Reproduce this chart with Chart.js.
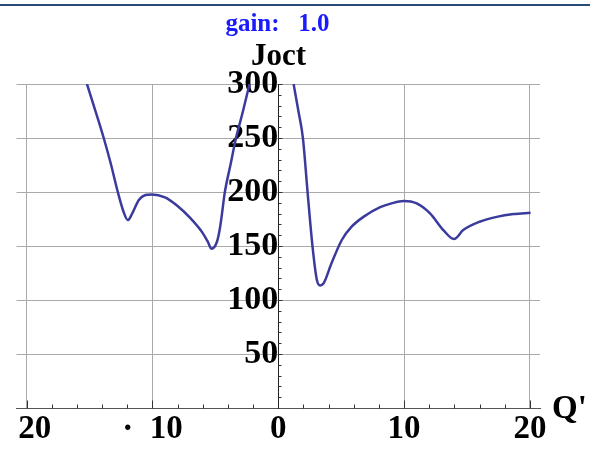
<!DOCTYPE html>
<html>
<head>
<meta charset="utf-8">
<title>Joct vs Q'</title>
<script src="https://cdn.jsdelivr.net/npm/chart.js@4.4.1/dist/chart.umd.min.js"></script>
<style>
  html, body { margin: 0; padding: 0; background: #fff; }
  #wrap { position: relative; width: 590px; height: 451px; }
  #topRule { position: absolute; top: 4px; left: 0; width: 590px; height: 1.5px; background: #284a78; }
</style>
</head>
<body>
<div id="wrap">
  <div id="topRule"></div>
  <canvas id="plot"></canvas>
</div>
<script>
// valores
const leftBranchQ = [-15.2, -14.5, -13.87, -13.3, -12.75, -12.3, -11.95, -11.61, -11.08, -10.56, -10.04, -9.0, -8.0, -7.0, -6.0, -5.6, -5.3, -4.87, -4.66, -4.47, -4.26, -3.8, -3.36, -2.8, -2.28];
const leftBranchJ = [300, 274, 250, 226, 200, 182, 174, 180, 192.6, 197.2, 197.8, 195, 187, 176, 162, 154, 147.5, 154, 164.8, 180, 198.8, 225, 249.7, 275, 300];
const rightBranchQ = [1.22, 1.6, 1.96, 2.33, 2.72, 3.07, 3.33, 3.6, 4.23, 5.05, 5.83, 6.77, 8.1, 9.0, 9.95, 11.0, 12.06, 13.12, 13.97, 14.7, 16.0, 17.36, 18.7, 20.05];
const rightBranchJ = [300, 275, 250, 200, 150, 118.5, 113.5, 115.4, 134, 155.6, 167.9, 177, 186, 189.5, 191.7, 189.5, 180.3, 164.8, 156.5, 164.8, 172.5, 177, 179.6, 180.8];

const xTickValues = [-20, -10, 0, 10, 20];
const xTickLabels = ['\u200220', '\u00b7\u200210', '0', '10', '20'];
const yTickValues = [50, 100, 150, 200, 250, 300];
const yTickLabels = ['50', '100', '150', '200', '250', '300'];
const xMinorTicks = [-20, -18, -16, -14, -12, -10, -8, -6, -4, -2, 2, 4, 6, 8, 10, 12, 14, 16, 18, 20];
const yMinorTicks = [10, 20, 30, 40, 50, 60, 70, 80, 90, 100, 110, 120, 130, 140, 150, 160, 170, 180, 190, 200, 210, 220, 230, 240, 250, 260, 270, 280, 290, 300];

const titleText = 'gain: \u20021.0';
const yAxisName = 'Joct';
const xAxisName = "Q'";

const serif = '"Liberation Serif", "Times New Roman", serif';
const curveColor = '#3b3b9e';

const toPoints = (xs, ys) => xs.map((x, i) => ({ x, y: ys[i] }));

const axisExtras = {
  id: 'axisExtras',
  afterDraw(chart) {
    const { ctx, scales: { x, y } } = chart;
    const x0 = Math.round(x.getPixelForValue(0)) + 0.5;
    const y0 = Math.round(y.getPixelForValue(0)) + 0.5;
    ctx.save();
    ctx.lineWidth = 1;
    ctx.strokeStyle = '#333';
    xMinorTicks.forEach(v => {
      const px = Math.round(x.getPixelForValue(v)) + 0.5;
      ctx.beginPath();
      ctx.moveTo(px, y0);
      ctx.lineTo(px, y0 - (v % 10 === 0 ? 8 : 4));
      ctx.stroke();
    });
    yMinorTicks.forEach(v => {
      const py = Math.round(y.getPixelForValue(v)) + 0.5;
      ctx.beginPath();
      ctx.moveTo(x0, py);
      ctx.lineTo(x0 + (v % 50 === 0 ? 4 : 3), py);
      ctx.stroke();
    });

    ctx.textAlign = 'center';
    ctx.textBaseline = 'alphabetic';
    ctx.fillStyle = '#1a1aff';
    ctx.font = `bold 25px ${serif}`;
    ctx.fillText(titleText, x0 - 1, 31);
    ctx.fillStyle = '#000';
    ctx.font = `bold 31px ${serif}`;
    ctx.fillText(yAxisName, x0, 65);
    ctx.textAlign = 'left';
    ctx.font = `bold 33px ${serif}`;
    ctx.fillText(xAxisName, x.right + 12, y0 + 9);
    ctx.restore();
  }
};

const lineStyle = {
  showLine: true,
  pointRadius: 0,
  borderColor: curveColor,
  borderWidth: 2.5,
  cubicInterpolationMode: 'monotone',
  fill: false
};

new Chart(document.getElementById('plot'), {
  type: 'scatter',
  data: {
    datasets: [
      { ...lineStyle, data: toPoints(leftBranchQ, leftBranchJ) },
      { ...lineStyle, data: toPoints(rightBranchQ, rightBranchJ) }
    ]
  },
  options: {
    responsive: true,
    maintainAspectRatio: false,
    animation: false,
    layout: { padding: { top: 84, left: 16.5, right: 50, bottom: 0 } },
    plugins: { legend: { display: false }, title: { display: false }, tooltip: { enabled: false } },
    scales: {
      x: {
        type: 'linear',
        position: 'bottom',
        min: -20.8,
        max: 20.8,
        afterBuildTicks: scale => { scale.ticks = xTickValues.map(value => ({ value })); },
        ticks: {
          callback: (v, i) => xTickLabels[i],
          font: { family: serif, size: 33, weight: 'bold', lineHeight: 1.3 },
          color: '#000',
          padding: 0,
          maxRotation: 0,
          autoSkip: false
        },
        grid: {
          color: ctx => (ctx.tick && ctx.tick.value === 0 ? 'rgba(0,0,0,0)' : '#aaaaaa'),
          lineWidth: 1,
          drawTicks: false
        },
        border: { color: '#555', width: 1 }
      },
      y: {
        type: 'linear',
        position: { x: 0 },
        min: 0,
        max: 300,
        afterBuildTicks: scale => { scale.ticks = yTickValues.map(value => ({ value })); },
        ticks: {
          callback: (v, i) => yTickLabels[i],
          font: { family: serif, size: 34, weight: 'bold' },
          color: '#000',
          padding: 6
        },
        grid: { color: '#aaaaaa', lineWidth: 1, drawTicks: false },
        border: { color: '#222', width: 1 }
      }
    }
  },
  plugins: [axisExtras]
});
</script>
</body>
</html>
